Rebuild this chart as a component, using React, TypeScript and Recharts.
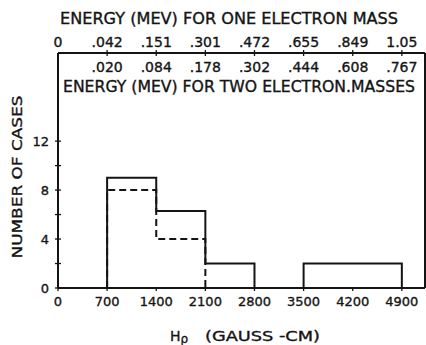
import { LineChart, Line, XAxis, YAxis } from "recharts";

// Hρ bins (gauss-cm) and case counts
const binEdges = [700, 1400, 2100, 2800, 3500, 4200, 4900];
const solidCounts = [9, 6.3, 2, 0, 2, 2];
const dashedCounts = [8, 4];

const bottomTicks = [0, 700, 1400, 2100, 2800, 3500, 4200, 4900];
const oneMassLabels = ["0", ".042", ".151", ".301", ".472", ".655", ".849", "1.05"];
const twoMassLabels = ["", ".020", ".084", ".178", ".302", ".444", ".608", ".767"];
const yTicks = [0, 2, 4, 6, 8, 10, 12];
const yLabelled = [0, 4, 8, 12];

const INK = "#141414";
const FONT = "'DejaVu Sans', sans-serif";
// lettering in the scan is a little heavier than the font
const heavy = { stroke: INK, strokeWidth: 0.35 };

// step data: leading zero so the first bin rises from the baseline
const data = [
  { x: binEdges[0], solid: 0, dashed: 0 },
  ...binEdges.map((e, i) => ({
    x: e,
    solid: i < solidCounts.length ? solidCounts[i] : 0,
    dashed:
      i < dashedCounts.length ? dashedCounts[i] : i === dashedCounts.length ? 0 : null,
  })),
];

function TopTick(props: any) {
  const { x, y, payload } = props;
  const i = bottomTicks.indexOf(payload.value);
  return (
    <g>
      {payload.value !== 0 && (
        <line x1={x} x2={x} y1={y - 3} y2={y + 3} stroke={INK} strokeWidth={1.3} />
      )}
      <text x={x} y={y - 6} textAnchor="middle" fontSize={14} fill={INK} fontFamily={FONT} {...heavy}>
        {oneMassLabels[i]}
      </text>
      <text x={x} y={y + 19} textAnchor="middle" fontSize={14} fill={INK} fontFamily={FONT} {...heavy}>
        {twoMassLabels[i]}
      </text>
    </g>
  );
}

function BottomTick(props: any) {
  const { x, y, payload } = props;
  return (
    <g>
      <line x1={x} x2={x} y1={y} y2={y + 3} stroke={INK} strokeWidth={1.3} />
      <text x={x} y={y + 18} textAnchor="middle" fontSize={13} fill={INK} fontFamily={FONT} {...heavy}>
        {payload.value}
      </text>
    </g>
  );
}

function LeftTick(props: any) {
  const { x, y, payload } = props;
  return (
    <g>
      <line x1={x - 3} x2={x + 3} y1={y} y2={y} stroke={INK} strokeWidth={1.3} />
      {yLabelled.includes(payload.value) && (
        <text x={x - 9} y={y + 5} textAnchor="end" fontSize={13} fill={INK} fontFamily={FONT} {...heavy}>
          {payload.value}
        </text>
      )}
    </g>
  );
}

export default function App() {
  return (
    <div style={{ position: "absolute", left: 0, top: 0, background: "#fff" }}>
      <LineChart
        width={426}
        height={345}
        data={data}
        margin={{ top: 0, right: 0, bottom: 0, left: 0 }}
      >
        <XAxis
          xAxisId="bottom"
          dataKey="x"
          type="number"
          domain={[0, 5230]}
          ticks={bottomTicks}
          height={57}
          tickSize={0}
          tickMargin={0}
          tickLine={false}
          axisLine={{ stroke: INK, strokeWidth: 2 }}
          tick={<BottomTick />}
          interval={0}
        />
        <XAxis
          xAxisId="top"
          orientation="top"
          dataKey="x"
          type="number"
          domain={[0, 5230]}
          ticks={bottomTicks}
          height={53}
          tickSize={0}
          tickMargin={0}
          tickLine={false}
          axisLine={{ stroke: INK, strokeWidth: 2 }}
          tick={<TopTick />}
          interval={0}
        />
        <YAxis
          yAxisId="left"
          type="number"
          domain={[0, 19.2]}
          ticks={yTicks}
          width={58}
          tickSize={0}
          tickMargin={0}
          tickLine={false}
          axisLine={{ stroke: INK, strokeWidth: 2 }}
          tick={<LeftTick />}
          interval={0}
        />
        <YAxis
          yAxisId="right"
          orientation="right"
          domain={[0, 19.2]}
          width={1}
          tick={false}
          tickLine={false}
          axisLine={{ stroke: INK, strokeWidth: 2 }}
        />
        <Line
          xAxisId="bottom"
          yAxisId="left"
          type="stepAfter"
          dataKey="solid"
          stroke={INK}
          strokeWidth={2}
          dot={false}
          isAnimationActive={false}
        />
        <Line
          xAxisId="bottom"
          yAxisId="left"
          type="stepAfter"
          dataKey="dashed"
          stroke={INK}
          strokeWidth={2}
          strokeDasharray="7 4"
          dot={false}
          connectNulls={false}
          isAnimationActive={false}
        />
        <text x={229} y={24} textAnchor="middle" fontSize={15} fill={INK} fontFamily={FONT} textLength={338} lengthAdjust="spacingAndGlyphs" {...heavy}>
          ENERGY (MEV) FOR ONE ELECTRON MASS
        </text>
        <text x={239} y={92} textAnchor="middle" fontSize={15} fill={INK} fontFamily={FONT} textLength={352} lengthAdjust="spacingAndGlyphs" {...heavy}>
          ENERGY (MEV) FOR TWO ELECTRON.MASSES
        </text>
        <text
          x={0}
          y={0}
          transform="translate(22 177) rotate(-90)"
          textAnchor="middle"
          fontSize={14}
          fill={INK}
          fontFamily={FONT}
          textLength={163}
          lengthAdjust="spacingAndGlyphs"
          {...heavy}
        >
          NUMBER OF CASES
        </text>
        <text y={341} fontSize={14} fill={INK} fontFamily={FONT} {...heavy}>
          <tspan x={170}>H</tspan>
          <tspan fontSize={12} dy={2}>ρ</tspan>
          <tspan x={205} dy={-2} textLength={115} lengthAdjust="spacingAndGlyphs">
            (GAUSS -CM)
          </tspan>
        </text>
      </LineChart>
    </div>
  );
}
